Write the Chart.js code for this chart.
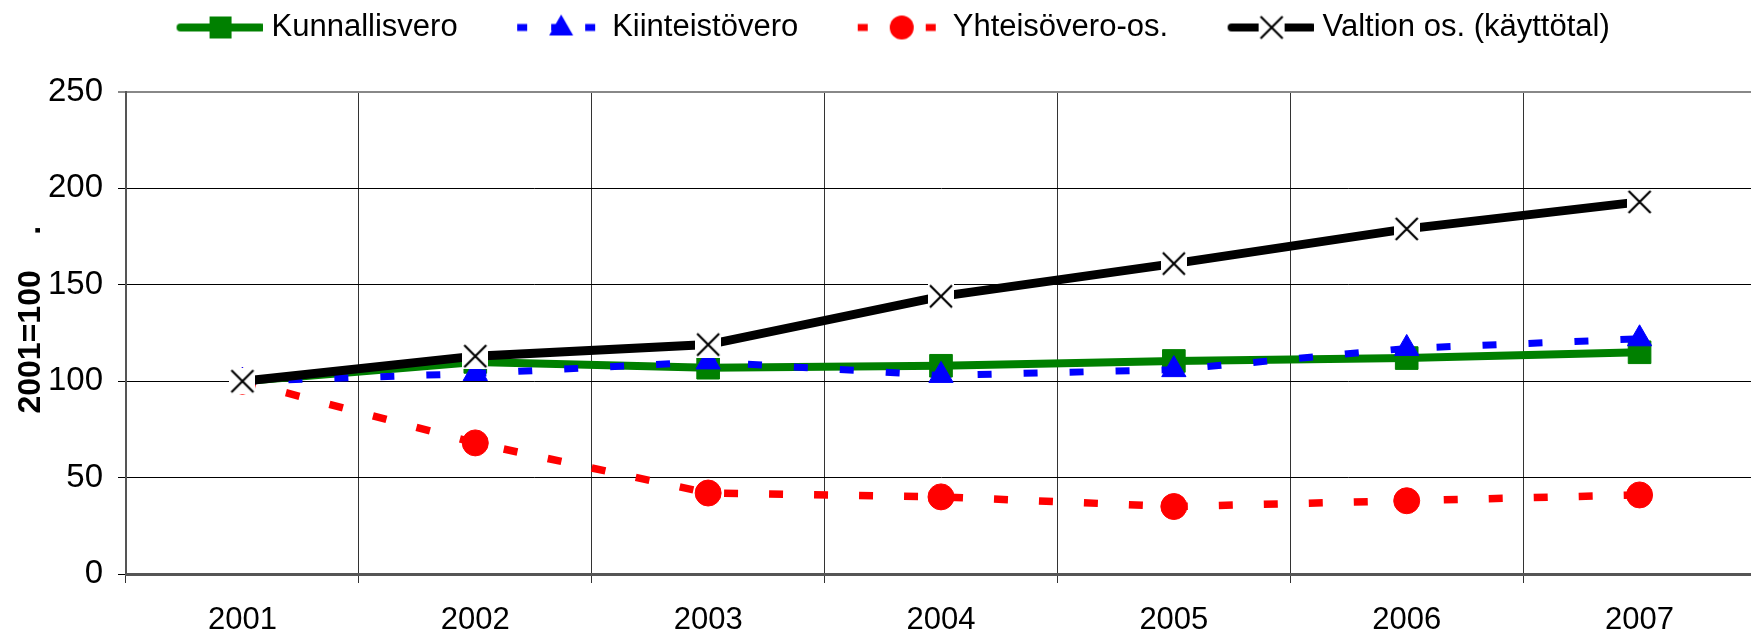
<!DOCTYPE html>
<html>
<head>
<meta charset="utf-8">
<script src="https://cdn.jsdelivr.net/npm/chart.js@4"></script>
<style>
  html, body { margin: 0; background: #fff; overflow: hidden; }
</style>
</head>
<body>
<canvas id="taxChart" width="1756" height="635"></canvas>
<script>
// values (index 2001 = 100)
const years = ['2001', '2002', '2003', '2004', '2005', '2006', '2007'];
const kunnallisvero = [100, 110, 107, 108, 110.5, 112, 115];
const kiinteistovero = [100, 104, 110, 103, 106, 117, 122];
const yhteisovero = [100, 68, 42, 40, 35, 38, 41];
const valtionOs = [100, 113, 119, 144, 161, 179, 193];
const seriesNames = ['Kunnallisvero', 'Kiinteistövero', 'Yhteisövero-os.', 'Valtion os. (käyttötal)'];
const yTicks = [0, 50, 100, 150, 200, 250];

Chart.defaults.font.family = "'Liberation Sans', Arial, sans-serif";
Chart.defaults.color = '#000';

// X marker with white box behind it, like the original
function makeXMarker() {
    const c = document.createElement('canvas');
    c.width = 26;
    c.height = 26;
    const g = c.getContext('2d');
    g.fillStyle = '#fff';
    g.fillRect(0, 0, 26, 26);
    g.strokeStyle = '#000';
    g.lineWidth = 2.2;
    g.beginPath();
    g.moveTo(2, 2); g.lineTo(24, 24);
    g.moveTo(24, 2); g.lineTo(2, 24);
    g.stroke();
    return c;
}
const xMarker = makeXMarker();

// legend sample: line with the marker in the middle (left part of the image stays empty)
function legendSample(color, width, dash, cap, marker) {
    const c = document.createElement('canvas');
    c.width = 140;
    c.height = 30;
    const g = c.getContext('2d');
    g.strokeStyle = color;
    g.lineWidth = width;
    g.lineCap = cap;
    g.setLineDash(dash);
    g.beginPath();
    g.moveTo(cap === 'round' ? 58 : 54, 15);
    g.lineTo(cap === 'round' ? 138 : 140, 15);
    g.stroke();
    g.setLineDash([]);
    g.fillStyle = color;
    marker(g, 98, 15);
    return c;
}
const samples = [
    legendSample('#008000', 8, [], 'round', (g, x, y) => g.fillRect(x - 11, y - 11, 22, 22)),
    legendSample('#0000ff', 7, [10, 24], 'butt', (g, x, y) => {
        g.beginPath(); g.moveTo(x, y - 13); g.lineTo(x + 12, y + 8); g.lineTo(x - 12, y + 8); g.closePath(); g.fill();
    }),
    legendSample('#ff0000', 7, [10, 24], 'butt', (g, x, y) => {
        g.beginPath(); g.arc(x, y, 12, 0, Math.PI * 2); g.fill();
    }),
    legendSample('#000', 8, [], 'round', (g, x, y) => g.drawImage(xMarker, x - 13, y - 13))
];

// extra room under the legend so the plot starts lower
const legendSpace = {
    id: 'legendSpace',
    beforeInit(chart) {
        const fit = chart.legend.fit;
        chart.legend.fit = function() {
            fit.call(this);
            this.height = 92;
        };
    }
};

const ctx = document.getElementById('taxChart').getContext('2d');
new Chart(ctx, {
    type: 'line',
    data: {
        labels: years,
        datasets: [
            {
                label: seriesNames[0],
                data: kunnallisvero,
                borderColor: '#008000',
                backgroundColor: '#008000',
                borderWidth: 8,
                pointStyle: 'rect',
                pointRadius: 16,
                pointBorderWidth: 1,
                pointBackgroundColor: '#008000',
                pointBorderColor: '#008000',
                order: 2
            },
            {
                label: seriesNames[1],
                data: kiinteistovero,
                borderColor: '#0000ff',
                backgroundColor: '#0000ff',
                borderWidth: 7,
                borderDash: [14, 32],
                pointStyle: 'triangle',
                pointRadius: 14,
                pointBorderWidth: 1,
                pointBackgroundColor: '#0000ff',
                pointBorderColor: '#0000ff',
                order: 1
            },
            {
                label: seriesNames[2],
                data: yhteisovero,
                borderColor: '#ff0000',
                backgroundColor: '#ff0000',
                borderWidth: 7.5,
                borderDash: [14, 31],
                pointStyle: 'circle',
                pointRadius: 13,
                pointBorderWidth: 1,
                pointBackgroundColor: '#ff0000',
                pointBorderColor: '#ff0000',
                order: 3
            },
            {
                label: seriesNames[3],
                data: valtionOs,
                borderColor: '#000',
                backgroundColor: '#000',
                borderWidth: 9,
                pointStyle: xMarker,
                order: 0
            }
        ]
    },
    options: {
        responsive: false,
        animation: false,
        devicePixelRatio: 1,
        layout: {
            autoPadding: false,
            padding: 0
        },
        plugins: {
            legend: {
                position: 'top',
                labels: {
                    usePointStyle: true,
                    pointStyleWidth: 127,
                    boxHeight: 30,
                    padding: 12,
                    color: '#000',
                    font: { size: 31 },
                    generateLabels: chart => chart.data.datasets.map((ds, i) => ({
                        // trailing spaces on the last item nudge the centred legend left
                        text: i === 3 ? ds.label + '  ' : ds.label,
                        pointStyle: samples[i],
                        datasetIndex: i,
                        hidden: false,
                        fillStyle: ds.borderColor,
                        strokeStyle: ds.borderColor,
                        lineWidth: 0,
                        fontColor: '#000'
                    }))
                }
            },
            tooltip: { enabled: false }
        },
        scales: {
            x: {
                offset: true,
                grid: {
                    offset: true,
                    color: '#333',
                    lineWidth: 1,
                    tickLength: 9
                },
                border: { color: '#555', width: 3 },
                ticks: {
                    color: '#000',
                    font: { size: 31, lineHeight: 0.9 },
                    padding: 24,
                    maxRotation: 0,
                    autoSkip: false
                },
                afterFit: axis => {
                    axis.height = 61;
                    axis.paddingLeft = 0;
                    axis.paddingRight = 0;
                }
            },
            y: {
                min: 0,
                max: 250,
                afterBuildTicks: axis => {
                    axis.ticks = yTicks.map(v => ({ value: v }));
                },
                grid: {
                    color: c => c.tick && c.tick.value === 250 ? '#888' : '#000',
                    lineWidth: c => c.tick && c.tick.value === 250 ? 2 : 1,
                    tickLength: 8
                },
                border: { color: '#555', width: 2 },
                ticks: {
                    color: '#000',
                    font: { size: 33 },
                    padding: 15
                },
                title: {
                    display: true,
                    text: '   2001=100    .',
                    color: '#000',
                    font: { size: 32, weight: 'bold' },
                    padding: { top: 12, bottom: 0 }
                },
                afterFit: axis => {
                    axis.width = 126;
                }
            }
        }
    },
    plugins: [legendSpace]
});
</script>
</body>
</html>
